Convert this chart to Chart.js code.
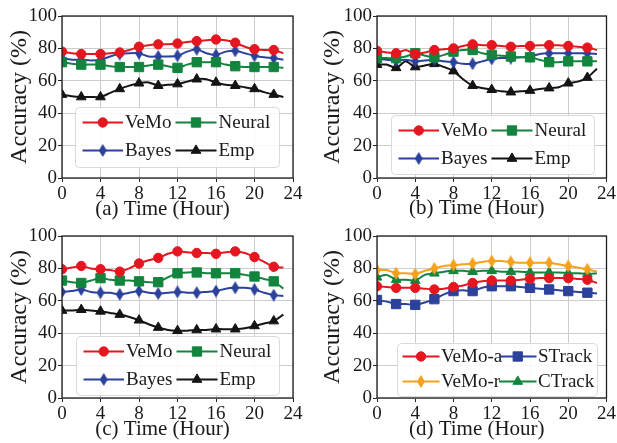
<!DOCTYPE html>
<html>
<head>
<meta charset="utf-8">
<script src="https://cdn.jsdelivr.net/npm/chart.js@4.4.1/dist/chart.umd.min.js"></script>
<style>
  html, body { margin: 0; padding: 0; background: #fff; }
  #fig { position: relative; width: 617px; height: 443px; overflow: hidden; background: #fff; }
  #fig canvas { position: absolute; }
</style>
</head>
<body>
<div id="fig">
  <canvas id="panelA" width="308" height="221" style="left:0;top:0"></canvas>
  <canvas id="panelB" width="309" height="221" style="left:308px;top:0"></canvas>
  <canvas id="panelC" width="308" height="222" style="left:0;top:221px"></canvas>
  <canvas id="panelD" width="309" height="222" style="left:308px;top:221px"></canvas>
</div>
<script>
// ---- data: hourly accuracy (%) ----
const HOURS = [0,1,2,3,4,5,6,7,8,9,10,11,12,13,14,15,16,17,18,19,20,21,22,23];
const X_TICKS = [0,4,8,12,16,20,24];
const Y_TICKS = [0,20,40,60,80,100];

// (a)
const A_VEMO   = [78,77,76.5,76.5,76.5,77,77.5,79,81,82,82.5,82.5,83,84,84.5,85,85.5,85,83.5,81,79.5,79,79,77];
const A_NEURAL = [71.5,70.5,70,70,70,69,68.5,68.5,68.5,69.5,70,69,68,70,71.5,71.5,71.5,70,69,68.5,68.5,68.5,68.5,68];
const A_BAYES  = [74,73,73,72.5,73,75,76.5,77,77,75,75,75,75.5,78,79.5,77,76,78,78.5,77,75.5,74.5,74,73];
const A_EMP    = [51.5,50.5,50,50,50,52.5,55,57,58.5,59,57,57.5,58,59.5,61,61,59,57.5,57,56,55,53,51.5,50];

// (b)
const B_VEMO   = [78.5,77.5,77,79,76.5,77.5,79,79.5,80,81.5,82.5,82,82,81.5,81,81.5,81.5,82,82,82,81.5,81,80.5,79];
const B_NEURAL = [74,74,74,75,77,75.5,74.5,76,78,79,79,77,76,75.5,75,74.5,74.5,73,71.5,71.5,72,72,72,72];
const B_BAYES  = [73.5,73,72.5,73,72,72.5,73,72,71.5,70.5,70.5,72,73.5,74,74,74.5,75,76.5,77,77,77,77,77,76.5];
const B_EMP    = [70,70,68,72,68.5,69.5,70.5,68.5,66,61,57,55.5,54.5,53.5,53,53.5,54,55,55.5,56,58.5,59.5,62,67.5];

// (c)
const C_VEMO   = [79.5,80.5,81.5,80,79.5,79,78,80,83,85,86.5,89,90.5,90,89.5,89.5,89,90,90.5,89.5,87,84,81,80.5];
const C_NEURAL = [72.5,71.5,71,72.5,74,73,72.5,72.5,72,71.5,71.5,74.5,77,77.5,77.5,77,77,77,77,76,75,73.5,72,67.5];
const C_BAYES  = [65.5,66,67,65.5,65,65,64,65,66,65,64.5,65,65.5,65,65,65.5,66,67.5,68,68,67,65,63.5,63];
const C_EMP    = [54,54,54.5,54,53.5,52.5,51.5,50,48,45.5,43.5,42,41.5,41.5,42,42,42.5,42.5,42.5,43,44.5,46,47.5,51.5];

// (d)
const D_VEMO_A = [69,68.5,68,68,68,67.5,67,67.5,68.5,69.5,71,72,72.5,72.5,72.5,73,73.5,74,74,74,74,73.5,73,71];
const D_STRACK = [60.5,59.5,58,58,57.5,59,61,64,66,66.5,66,68,69,69,69,68.5,68,67.5,67,66.5,66,65.5,65,64.5];
const D_VEMO_R = [79,79,77,77,76.5,78.5,80,81.5,82,82.5,83,84,84.5,84.5,84,83.5,83.5,83.5,83.5,82.5,81.5,80.5,79.5,78];
const D_CTRACK = [74.5,76,73,73,72.5,76,77,78,78.5,78.5,78,78.5,78.5,78,78,78,77.5,77.5,77.5,77.5,77,77,76.5,77];

// ---- styling ----
const SERIF = "'Liberation Serif', 'Times New Roman', Times, serif";
const RED = '#e5161f', GREEN = '#12843d', BLUE = '#2c419b', BLACK = '#141414', ORANGE = '#f5a11c';

function thinDiamond(color, w, h) {
  const c = document.createElement('canvas');
  c.width = w; c.height = h;
  const g = c.getContext('2d');
  g.fillStyle = color;
  g.beginPath();
  g.moveTo(w / 2, 0); g.lineTo(w, h / 2); g.lineTo(w / 2, h); g.lineTo(0, h / 2);
  g.closePath();
  g.fill();
  return c;
}

const MARK = {
  circle:   { pointStyle: 'circle',   radius: 4.7 },
  square:   { pointStyle: 'rect',     radius: 6.6 },
  triangle: { pointStyle: 'triangle', radius: 5.6 },
  diamondBlue:   { pointStyle: thinDiamond(BLUE, 8, 13),   radius: 5 },
  diamondOrange: { pointStyle: thinDiamond(ORANGE, 8, 13), radius: 5 }
};

function series(label, values, color, mark) {
  return {
    label,
    data: HOURS.map((h, i) => ({ x: h, y: values[i] })),
    borderColor: color,
    backgroundColor: color,
    pointBackgroundColor: color,
    pointBorderColor: color,
    pointBorderWidth: 1,
    borderWidth: 2,
    pointStyle: mark.pointStyle,
    pointRadius: HOURS.map(h => (h % 2 === 0 ? mark.radius : 0)),
    markRadius: mark.radius,
    tension: 0.2,
    borderJoinStyle: 'round'
  };
}

// Legend drawn inside the plot area, two columns by two rows.
const panelLegend = {
  id: 'panelLegend',
  afterDatasetsDraw(chart, args, opts) {
    const { ctx, chartArea: ca } = chart;
    const [ox, oy, bw, bh] = opts.box;
    const bx = ca.left + ox, by = ca.top + oy;
    ctx.save();
    ctx.beginPath();
    ctx.roundRect(bx + 0.5, by + 0.5, bw, bh, 4);
    ctx.fillStyle = 'rgba(255,255,255,0.85)';
    ctx.fill();
    ctx.strokeStyle = '#dadada';
    ctx.lineWidth = 1;
    ctx.stroke();
    ctx.font = '19px ' + SERIF;
    ctx.textBaseline = 'middle';
    ctx.textAlign = 'left';
    opts.items.forEach((dsIndex, k) => {
      const ds = chart.data.datasets[dsIndex];
      const y = by + opts.rows[Math.floor(k / 2)];
      const col = opts.cols[k % 2];
      const x0 = bx + col[0], x1 = bx + col[1];
      ctx.strokeStyle = ds.borderColor;
      ctx.lineWidth = ds.borderWidth;
      ctx.beginPath();
      ctx.moveTo(x0, y);
      ctx.lineTo(x1, y);
      ctx.stroke();
      ctx.fillStyle = ds.pointBackgroundColor;
      ctx.strokeStyle = ds.pointBorderColor;
      ctx.lineWidth = 1;
      Chart.helpers.drawPoint(ctx, { pointStyle: ds.pointStyle, radius: ds.markRadius, rotation: 0, borderWidth: 1 }, (x0 + x1) / 2, y);
      ctx.fillStyle = '#1a1a1a';
      ctx.fillText(ds.label, bx + col[2], y + 1);
    });
    ctx.restore();
  }
};

// Black frame round the plot area and the caption under the x axis.
const frameAndCaption = {
  id: 'frameAndCaption',
  afterDraw(chart, args, opts) {
    const { ctx, chartArea: ca } = chart;
    ctx.save();
    ctx.strokeStyle = '#1e1e1e';
    ctx.lineWidth = 1.3;
    ctx.strokeRect(ca.left, ca.top, ca.right - ca.left, ca.bottom - ca.top);
    ctx.font = '21px ' + SERIF;
    ctx.fillStyle = '#1a1a1a';
    ctx.textAlign = 'center';
    ctx.textBaseline = 'middle';
    ctx.fillText(opts.text, (ca.left + ca.right) / 2 + opts.dx, ca.bottom + opts.dy);
    ctx.restore();
  }
};

function makePanel(id, datasets, geo, legend, caption) {
  return new Chart(document.getElementById(id), {
    type: 'line',
    data: { datasets },
    options: {
      responsive: false,
      animation: false,
      events: [],
      layout: { padding: { left: 0, right: geo.padRight, top: geo.padTop, bottom: 0 } },
      plugins: {
        legend: { display: false },
        tooltip: { enabled: false },
        panelLegend: legend,
        frameAndCaption: { text: caption, dx: -15, dy: geo.captionDy }
      },
      scales: {
        x: {
          type: 'linear',
          min: 0, max: 24,
          afterBuildTicks: s => { s.ticks = X_TICKS.map(v => ({ value: v })); },
          afterFit: s => { s.height = geo.axisH; },
          grid: { color: '#cccccc', lineWidth: 1, tickLength: 4, tickColor: '#222', drawTicks: true },
          border: { display: false },
          ticks: { autoSkip: false, maxRotation: 0, padding: 1, color: '#1a1a1a', font: { family: SERIF, size: 19 } }
        },
        y: {
          min: 0, max: 100,
          afterBuildTicks: s => { s.ticks = Y_TICKS.map(v => ({ value: v })); },
          afterFit: s => { s.width = geo.axisW; },
          grid: { color: '#cccccc', lineWidth: 1, tickLength: 4, tickColor: '#222', drawTicks: true },
          border: { display: false },
          ticks: { padding: 1, color: '#1a1a1a', font: { family: SERIF, size: 19 } },
          title: {
            display: true,
            text: 'Accuracy (%)',
            color: '#1a1a1a',
            font: { family: SERIF, size: 24 },
            padding: { top: geo.titlePad, bottom: 0 }
          }
        }
      }
    },
    plugins: [panelLegend, frameAndCaption]
  });
}

const LEFT_GEO_TOP  = { axisW: 62, titlePad: 5,  padRight: 15, padTop: 16, axisH: 43, captionDy: 31 };
const RIGHT_GEO_TOP = { axisW: 69, titlePad: 10, padRight: 10, padTop: 16, axisH: 43, captionDy: 30.5 };
const LEFT_GEO_BOT  = { axisW: 62, titlePad: 5,  padRight: 15, padTop: 15, axisH: 45, captionDy: 31 };
const RIGHT_GEO_BOT = { axisW: 69, titlePad: 10, padRight: 10, padTop: 15, axisH: 45, captionDy: 31 };

const LEGEND_ROWS = [15.5, 43.5];
const LEGEND_COLS = [[7.5, 48, 50], [100.5, 141.5, 143.5]];

function baselineSet(vemo, neural, bayes, emp) {
  return [
    series('VeMo', vemo, RED, MARK.circle),
    series('Neural', neural, GREEN, MARK.square),
    series('Bayes', bayes, BLUE, MARK.diamondBlue),
    series('Emp', emp, BLACK, MARK.triangle)
  ];
}

makePanel('panelA', baselineSet(A_VEMO, A_NEURAL, A_BAYES, A_EMP), LEFT_GEO_TOP,
  { box: [13, 91, 204, 60], rows: LEGEND_ROWS, cols: LEGEND_COLS, items: [0, 1, 2, 3] },
  '(a) Time (Hour)');

makePanel('panelB', baselineSet(B_VEMO, B_NEURAL, B_BAYES, B_EMP), RIGHT_GEO_TOP,
  { box: [14, 99, 203, 59], rows: LEGEND_ROWS, cols: LEGEND_COLS, items: [0, 1, 2, 3] },
  '(b) Time (Hour)');

makePanel('panelC', baselineSet(C_VEMO, C_NEURAL, C_BAYES, C_EMP), LEFT_GEO_BOT,
  { box: [14, 100, 203, 59], rows: LEGEND_ROWS, cols: LEGEND_COLS, items: [0, 1, 2, 3] },
  '(c) Time (Hour)');

makePanel('panelD', [
    series('VeMo-a', D_VEMO_A, RED, MARK.circle),
    series('STrack', D_STRACK, BLUE, MARK.square),
    series('VeMo-r', D_VEMO_R, ORANGE, MARK.diamondOrange),
    series('CTrack', D_CTRACK, GREEN, MARK.triangle)
  ], RIGHT_GEO_BOT,
  { box: [20, 107, 200, 53], rows: [13.5, 38.5], cols: [[5.5, 42.5, 44], [102, 139.5, 141]], items: [0, 1, 2, 3] },
  '(d) Time (Hour)');
</script>
</body>
</html>
